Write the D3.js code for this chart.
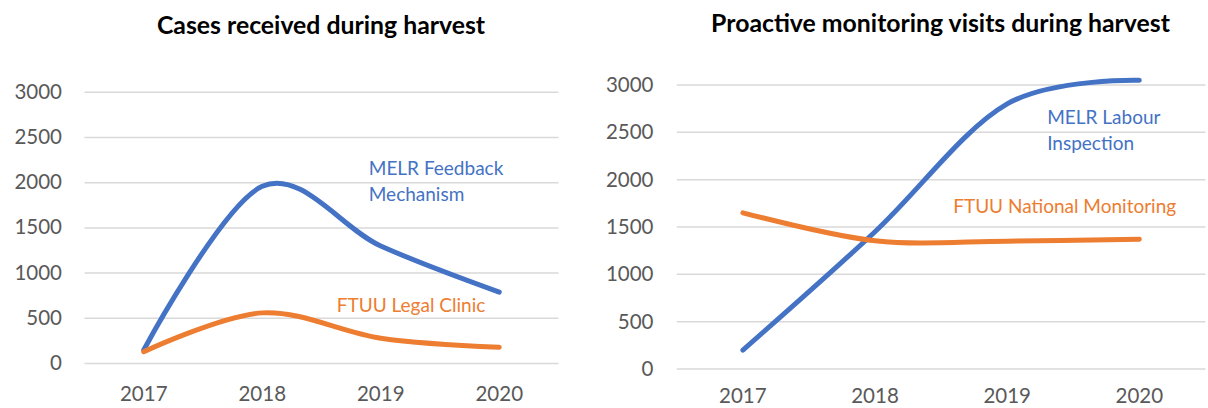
<!DOCTYPE html>
<html>
<head>
<meta charset="utf-8">
<script src="https://cdn.jsdelivr.net/npm/d3@7"></script>
<style>
  body { margin: 0; background: #fff; }
  svg { display: block; font-family: Lato, "Open Sans", sans-serif; }
  .gridline { stroke: #d9d9d9; stroke-width: 1.5; }
  .tick-label { fill: #595959; font-size: 20.5px; }
  .title { fill: #000; font-size: 24.8px; font-weight: bold; }
  .series { fill: none; stroke-width: 5; stroke-linecap: round; stroke-linejoin: round; }
  .series-label { font-size: 19px; }
</style>
</head>
<body>
<svg id="chart"></svg>
<script>
var years = ["2017", "2018", "2019", "2020"];
var yTicks = [0, 500, 1000, 1500, 2000, 2500, 3000];

// cases received during harvest
var casesMelr = [150, 1960, 1300, 790];
var casesFtuu = [130, 560, 280, 180];

// proactive monitoring visits during harvest
var visitsMelr = [200, 1450, 2800, 3050];
var visitsFtuu = [1650, 1355, 1350, 1370];

var blue = "#4472C4";
var orange = "#ED7D31";

var width = 1208;
var height = 408;

var svg = d3.select("#chart").attr("width", width).attr("height", height);

function drawChart(opts) {
  var xScale = d3
    .scalePoint()
    .domain(years)
    .range([opts.left, opts.right])
    .padding(0.5);

  var yScale = d3
    .scaleLinear()
    .domain([0, 3000])
    .range([opts.bottom, opts.top]);

  var g = svg.append("g");

  // gridlines
  g.selectAll(".gridline")
    .data(yTicks)
    .enter()
    .append("line")
    .attr("class", "gridline")
    .attr("x1", opts.left)
    .attr("x2", opts.right)
    .attr("y1", function (d) { return yScale(d); })
    .attr("y2", function (d) { return yScale(d); });

  // y tick labels
  g.selectAll(".ylab")
    .data(yTicks)
    .enter()
    .append("text")
    .attr("class", "tick-label")
    .attr("text-anchor", "end")
    .attr("x", opts.yLabelX)
    .attr("y", function (d) { return yScale(d) + opts.yLabelDy; })
    .text(function (d) { return d; });

  // x tick labels
  g.selectAll(".xlab")
    .data(years)
    .enter()
    .append("text")
    .attr("class", "tick-label")
    .attr("text-anchor", "middle")
    .attr("x", function (d) { return xScale(d); })
    .attr("y", opts.bottom + opts.xLabelDy)
    .text(function (d) { return d; });

  // title
  g.append("text")
    .attr("class", "title")
    .attr("text-anchor", "middle")
    .attr("x", opts.titleX)
    .attr("y", opts.titleY)
    .text(opts.title);

  var line = d3
    .line()
    .x(function (d, i) { return xScale(years[i]); })
    .y(function (d) { return yScale(d); })
    .curve(d3.curveCardinal);

  opts.series.forEach(function (s) {
    g.append("path")
      .attr("class", "series")
      .attr("stroke", s.color)
      .attr("d", line(s.values));

    var lbl = g.append("text")
      .attr("class", "series-label")
      .attr("fill", s.color)
      .attr("x", xScale(s.labelAt) + s.labelDx)
      .attr("y", yScale(s.labelValue));
    s.label.forEach(function (t, i) {
      lbl.append("tspan")
        .attr("x", xScale(s.labelAt) + s.labelDx)
        .attr("dy", i === 0 ? 0 : 25.8)
        .text(t);
    });
  });
}

drawChart({
  title: "Cases received during harvest",
  titleX: 321,
  titleY: 34,
  left: 84.5,
  right: 558.5,
  top: 92.3,
  bottom: 363.5,
  yLabelX: 62,
  yLabelDy: 6.5,
  xLabelDy: 37,
  series: [
    { values: casesMelr, color: blue, label: ["MELR Feedback", "Mechanism"],
      labelAt: "2019", labelDx: -12, labelValue: 2085 },
    { values: casesFtuu, color: orange, label: ["FTUU Legal Clinic"],
      labelAt: "2019", labelDx: -44, labelValue: 566 }
  ]
});

drawChart({
  title: "Proactive monitoring visits during harvest",
  titleX: 940.5,
  titleY: 32.3,
  left: 676.8,
  right: 1205.4,
  top: 85,
  bottom: 369,
  yLabelX: 653.5,
  yLabelDy: 7,
  xLabelDy: 34,
  series: [
    { values: visitsMelr, color: blue, label: ["MELR Labour", "Inspection"],
      labelAt: "2019", labelDx: 40, labelValue: 2588 },
    { values: visitsFtuu, color: orange, label: ["FTUU National Monitoring"],
      labelAt: "2019", labelDx: -54, labelValue: 1645 }
  ]
});
</script>
</body>
</html>
